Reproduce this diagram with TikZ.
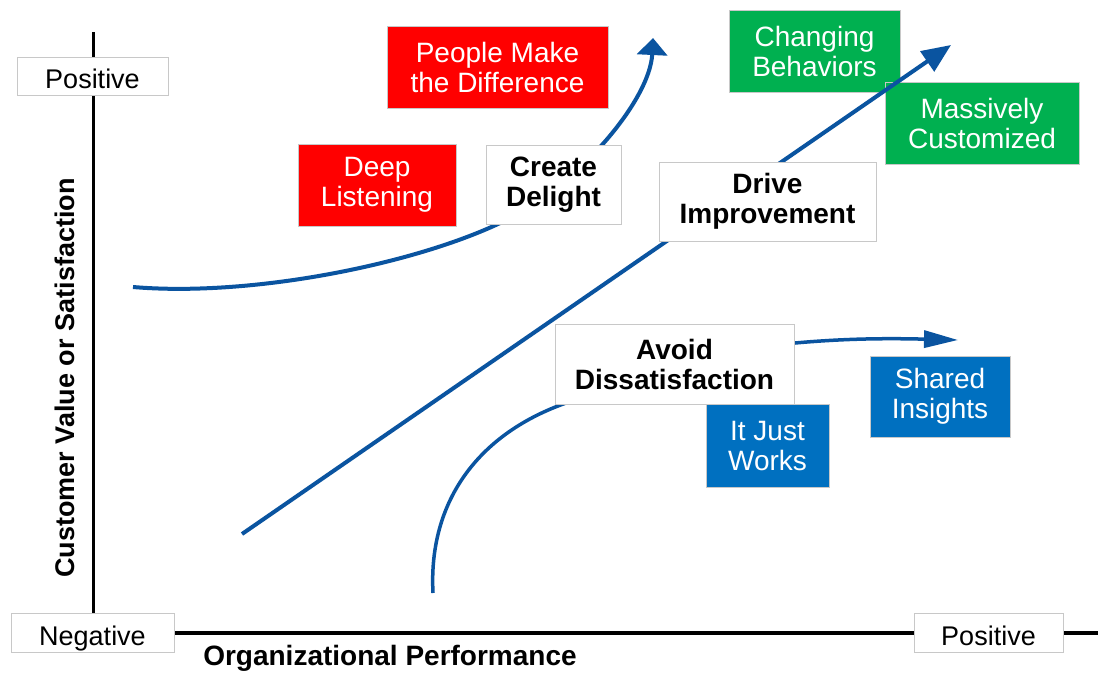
\documentclass[tikz,border=0pt]{standalone}
\usepackage{fontspec}
\setmainfont{Liberation Sans}
\usetikzlibrary{arrows.meta}
\definecolor{cred}{RGB}{255,0,0}
\definecolor{cgreen}{RGB}{0,176,80}
\definecolor{cblue}{RGB}{0,112,192}
\definecolor{ccurve}{RGB}{10,84,160}
\definecolor{cedge}{RGB}{200,200,200}
\begin{document}
\begin{tikzpicture}[x=1pt,y=-1pt,
  box/.style={draw=cedge, line width=1pt, align=center, inner sep=0pt,
    font=\fontsize{28}{30}\selectfont},
  redbox/.style={box, fill=cred, text=white},
  greenbox/.style={box, fill=cgreen, text=white},
  bluebox/.style={box, fill=cblue, text=white},
  whitebox/.style={box, fill=white, text=black, font=\fontsize{28}{30}\selectfont\bfseries},
  axislabel/.style={box, fill=white, font=\fontsize{27}{30}\selectfont, text height=25pt, text depth=0pt},
  axisline/.style={line width=3.5pt, black},
  flow/.style={line width=4pt, ccurve},
  title/.style={font=\fontsize{27}{30}\selectfont\bfseries, inner sep=0pt}
]
\useasboundingbox (0,0) rectangle (1098,673);
\fill[white] (0,0) rectangle (1098,673);

% axes
\coordinate (ytop) at (93,32);
\coordinate (ybot) at (93,613);
\coordinate (xleft) at (168,633);
\coordinate (xright) at (1098,633);
\draw[axisline, line width=3pt] (ytop) -- (ybot);
\draw[axisline] (xleft) -- (xright);

\node[axislabel, minimum width=151pt, minimum height=38pt] (posL) at (92.5,76) {Positive};
\node[axislabel, minimum width=163pt, minimum height=39pt] (neg) at (92.5,632.5) {Negative};
\node[axislabel, minimum width=149pt, minimum height=39pt] (posR) at (988.5,632.5) {Positive};

\node[title, rotate=90] (ylab) at (65,378) {Customer Value or Satisfaction};
\node[title, font=\fontsize{28}{30}\selectfont\bfseries] (xlab) at (390,658) {Organizational Performance};

% curves
\coordinate (c1s) at (133,287);
\coordinate (c1m) at (498,224);
\coordinate (c1e) at (653,38);
\draw[flow, -{Triangle[length=17pt,width=30pt]}] (c1s) .. controls (250,297) and (410,265) .. (c1m)
  .. controls (578,187) and (650,100) .. (c1e);

\coordinate (c3s) at (433,593);
\coordinate (c3m) at (575,400);
\coordinate (c3n) at (795,343);
\coordinate (c3e) at (958,340);
\draw[flow, line width=3.5pt] (c3s) .. controls (428,500) and (480,430) .. (c3m)
  .. controls (650,375) and (720,350) .. (c3n);
\draw[flow, line width=3.5pt, -{Triangle[length=34pt,width=17pt]}] (c3n) .. controls (840,339) and (880,338) .. (c3e);

% boxes
\node[redbox, minimum width=221pt, minimum height=82pt] (people) at (497.5,67) {People Make\\the Difference};
\node[redbox, minimum width=158pt, minimum height=82pt] (deep) at (377,185) {Deep\\Listening};
\node[greenbox, minimum width=171pt, minimum height=82pt] (changing) at (814.5,51) {Changing\\Behaviors};
\node[greenbox, minimum width=194pt, minimum height=82pt] (massive) at (982,123) {Massively\\Customized};
\node[bluebox, minimum width=123pt, minimum height=83pt] (works) at (767.5,445.5) {It Just\\Works};
\node[bluebox, minimum width=140pt, minimum height=81pt] (shared) at (940,396.5) {Shared\\Insights};

% straight arrow
\coordinate (ls) at (242,534);
\coordinate (le) at (951,45);
\draw[flow, -{Triangle[length=29pt,width=24pt]}] (ls) -- (le);

\node[whitebox, minimum width=135pt, minimum height=79pt] (create) at (553.5,184.5) {Create\\Delight};
\node[whitebox, minimum width=217pt, minimum height=79pt] (drive) at (767.5,201.5) {Drive\\Improvement};
\node[whitebox, minimum width=239pt, minimum height=80pt] (avoid) at (674.5,364) {Avoid\\Dissatisfaction};
\end{tikzpicture}
\end{document}
